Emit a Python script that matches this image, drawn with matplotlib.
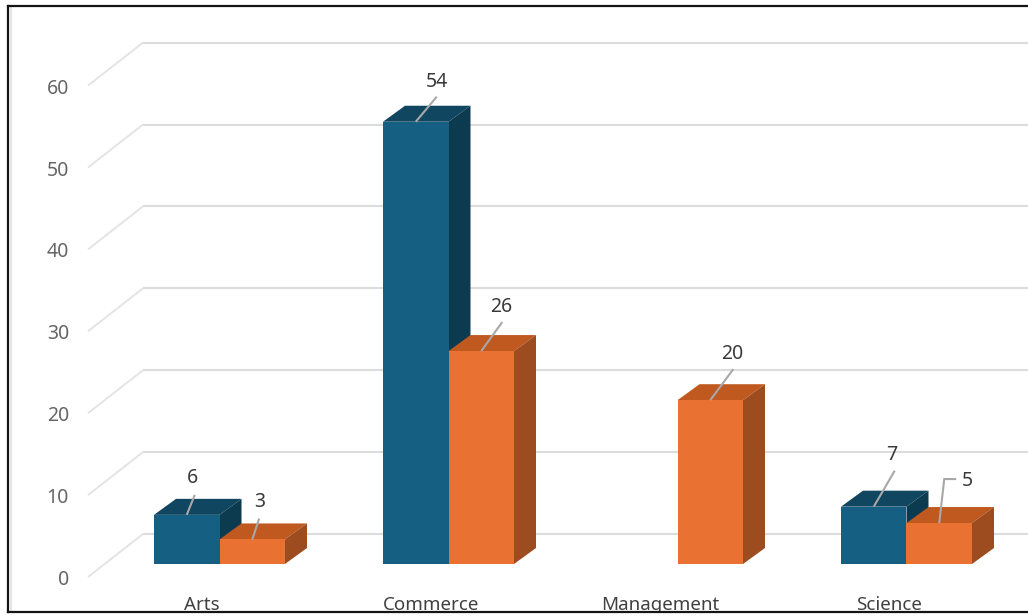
import numpy as np
import matplotlib
matplotlib.use("Agg")
import matplotlib.pyplot as plt
from matplotlib.patches import Polygon
from matplotlib.transforms import ScaledTranslation, IdentityTransform, blended_transform_factory

categories = ["Arts", "Commerce", "Management", "Science"]
series_a = [6, 54, np.nan, 7]
series_b = [3, 26, 20, 5]
y_ticks = [0, 10, 20, 30, 40, 50, 60]

W, H = 1028, 616
DPI = 100
PX_X = 229.0      # pixels per category
PX_Y = 8.19       # pixels per value unit
X0, Y0 = 219.5, 564.0   # pixel of category 0 / value 0
L, R, T, B = 7.5, 1045.0, 5.5, 611.5  # frame in pixels

fig = plt.figure(figsize=(W / DPI, H / DPI), dpi=DPI, facecolor="white")
ax = fig.add_axes([L / W, 1 - B / H, (R - L) / W, (B - T) / H])
ax.set_xlim((L - X0) / PX_X, (R - X0) / PX_X)
ax.set_ylim((Y0 - B) / PX_Y, (Y0 - T) / PX_Y)
ax.patch.set_alpha(0)
for s in ("left", "top", "bottom"):
    ax.spines[s].set_linewidth(1.6)
    ax.spines[s].set_color("#141414")
ax.spines["right"].set_visible(False)

FONT = "Noto Sans"
bar_w = 65.5 / PX_X
depth_x = 22 / PX_X
depth_y = 16 / PX_Y

# faint inner edge next to the frame
ax.plot([(11 - X0) / PX_X] * 2, ax.get_ylim(), color="#e6e6e6", lw=1.5, zorder=0)

# back wall gridlines and side-wall lines, placed relative to the value scale
grid_c = "#dcdcdc"
wall_c = "#e4e4e4"
px = blended_transform_factory(IdentityTransform(), ax.transData)
back = px + ScaledTranslation(0, 30 / DPI, fig.dpi_scale_trans)
front = px + ScaledTranslation(0, -13 / DPI, fig.dpi_scale_trans)
for v in y_ticks:
    ax.plot([143, W + 5], [v, v], transform=back, color=grid_c, lw=1.5, zorder=1, clip_on=False,
            solid_capstyle="butt")
    a = back.transform((143, v))
    b = front.transform((88, v))
    ax.plot([a[0], b[0]], [a[1], b[1]], transform=IdentityTransform(), color=wall_c, lw=1.4,
            zorder=1, clip_on=False, solid_capstyle="butt")


def bar3d(x, v, face, top, side, z):
    ax.bar(x, v, width=bar_w, align="edge", color=face, zorder=z + 0.2, linewidth=0)
    x1 = x + bar_w
    ax.add_patch(Polygon([(x, v), (x1, v), (x1 + depth_x, v + depth_y), (x + depth_x, v + depth_y)],
                         closed=True, facecolor=top, edgecolor="none", zorder=z))
    ax.add_patch(Polygon([(x1, 0), (x1, v), (x1 + depth_x, v + depth_y), (x1 + depth_x, depth_y)],
                         closed=True, facecolor=side, edgecolor="none", zorder=z))


BLUE = ("#156082", "#10465F", "#0C3A4F")
ORANGE = ("#E97132", "#C0591F", "#9C4C1F")
for i, cat in enumerate(categories):
    if not np.isnan(series_a[i]):
        bar3d(i - bar_w, series_a[i], *BLUE, z=3)
    bar3d(i, series_b[i], *ORANGE, z=4)

# data labels with leader lines: (text offset, leader path) in pixels from the bar's top-centre
label_a = {0: ((6, 37), [(0, 0), (8, 20)]),
           1: ((21, 40), [(0, 0), (21, 25)]),
           3: ((18, 52), [(0, 0), (21, 36)])}
label_b = {0: ((7, 37), [(0, 0), (7, 21)]),
           1: ((20, 44), [(0, 0), (21, 29)]),
           2: ((22, 46), [(0, 0), (23, 31)]),
           3: ((28, 42), [(0, 0), (5, 44), (17, 44)])}


def labels(values, offs, xc, z):
    for i, (to, path) in offs.items():
        v = values[i]
        base = ax.transData.transform((i + xc, v))
        pts = np.array(path, float) + base
        ax.plot(pts[:, 0], pts[:, 1], transform=IdentityTransform(), color="#a8a8a8", lw=1.5,
                zorder=z, solid_capstyle="butt", solid_joinstyle="miter")
        ax.annotate(str(int(v)), xy=(i + xc, v), xytext=to, textcoords="offset pixels",
                    ha="center", va="center", fontsize=14, color="#3a3a3a", family=FONT, zorder=z)


labels(series_a, label_a, -bar_w / 2, 6)
labels(series_b, label_b, bar_w / 2, 7)

# axis ticks
ax.set_yticks(y_ticks)
ax.set_yticklabels([str(v) for v in y_ticks], fontsize=14, color="#666666", family=FONT)
ax.tick_params(axis="y", length=0, pad=-(69 - L) * 72 / DPI)
ax.set_xticks(range(len(categories)))
ax.set_xticklabels(categories, fontsize=13.5, color="#404040", family=FONT)
ax.tick_params(axis="x", length=0, pad=-16 * 72 / DPI)
fig.canvas.draw()
yoff = ScaledTranslation(0, -13.5 / DPI, fig.dpi_scale_trans)
xoff = ScaledTranslation(-17.5 / DPI, 0, fig.dpi_scale_trans)
for t in ax.get_yticklabels():
    t.set_transform(t.get_transform() + yoff)
for t in ax.get_xticklabels():
    t.set_transform(t.get_transform() + xoff)
    t.set_clip_box(ax.bbox)
    t.set_clip_on(True)

fig.savefig("out.png", dpi=DPI, facecolor="white")
